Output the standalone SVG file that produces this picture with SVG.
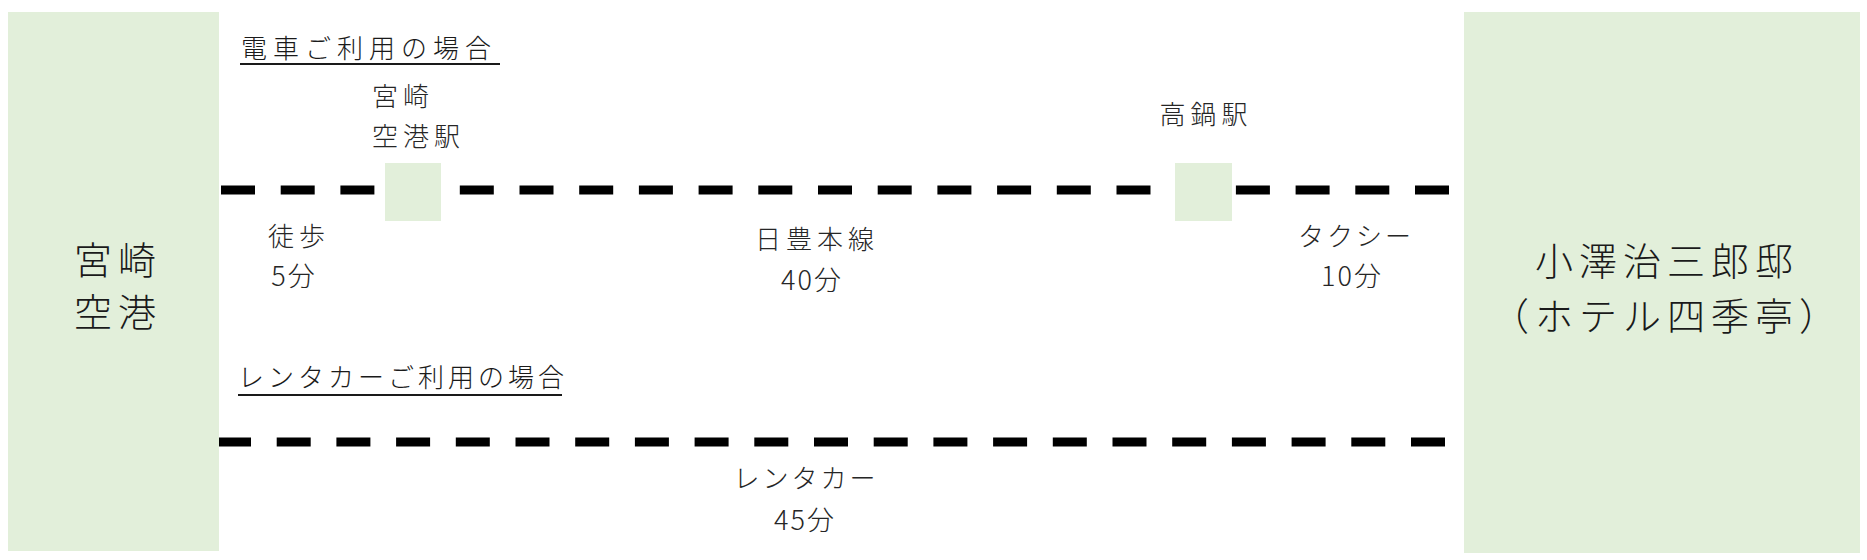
<svg xmlns="http://www.w3.org/2000/svg" width="1867" height="560" viewBox="0 0 1867 560">
<style>
  .box { fill: #E2EFDA; }
  .t { font-family: "Noto Sans CJK JP", "Noto Sans", sans-serif; font-weight: 300; fill: #262626; }
  .s { font-size: 26px; letter-spacing: 5px; }
  .k { font-size: 26px; letter-spacing: 3px; }
  .n { font-size: 27px; letter-spacing: 2px; }
  .h { font-size: 26px; letter-spacing: 6px; fill: #1a1a1a; }
  .hk { font-size: 26px; letter-spacing: 4px; fill: #1a1a1a; }
  .big { font-size: 38px; letter-spacing: 6px; fill: #1a1a1a; }
  .c { text-anchor: middle; }
  .dash { fill: none; stroke: #000; stroke-width: 9; stroke-dasharray: 34 25.7; }
  .ul { stroke: #1a1a1a; stroke-width: 2; }
</style>

<g id="connectors">
  <line class="dash" x1="221" y1="190" x2="1449" y2="190"/>
  <line class="dash" x1="217" y1="442" x2="1445" y2="442"/>
</g>

<g id="airport">
  <rect class="box" x="8" y="12" width="211" height="539"/>
  <text class="t big c" x="118" y="274">宮崎</text>
  <text class="t big c" x="118" y="326">空港</text>
</g>

<g id="hotel">
  <rect class="box" x="1464" y="12" width="396" height="541"/>
  <text class="t big c" x="1667" y="275">小澤治三郎邸</text>
  <text class="t big c" x="1667" y="330">（ホテル四季亭）</text>
</g>

<g id="station-miyazaki-airport">
  <rect class="box" x="385" y="163" width="56" height="58"/>
  <text class="t s" x="372" y="106">宮崎</text>
  <text class="t s" x="372" y="146">空港駅</text>
</g>

<g id="station-takanabe">
  <rect class="box" x="1175" y="163" width="57" height="58"/>
  <text class="t s c" x="1206" y="124">高鍋駅</text>
</g>

<g id="heading-train">
  <text class="t h" x="241" y="58">電車ご利用の場合</text>
  <line class="ul" x1="240" y1="64" x2="500" y2="64"/>
</g>

<g id="heading-car">
  <text class="t hk" x="238" y="387">レンタカーご利用の場合</text>
  <line class="ul" x1="238" y1="395" x2="562" y2="395"/>
</g>

<g id="label-walk">
  <text class="t s c" x="299" y="246">徒歩</text>
  <text class="t n c" x="294" y="286">5分</text>
</g>

<g id="label-nippo">
  <text class="t s c" x="817" y="249">日豊本線</text>
  <text class="t n c" x="812" y="290">40分</text>
</g>

<g id="label-taxi">
  <text class="t k c" x="1356" y="246">タクシー</text>
  <text class="t n c" x="1352" y="286">10分</text>
</g>

<g id="label-rentacar">
  <text class="t k c" x="806" y="488">レンタカー</text>
  <text class="t n c" x="805" y="530">45分</text>
</g>
</svg>
